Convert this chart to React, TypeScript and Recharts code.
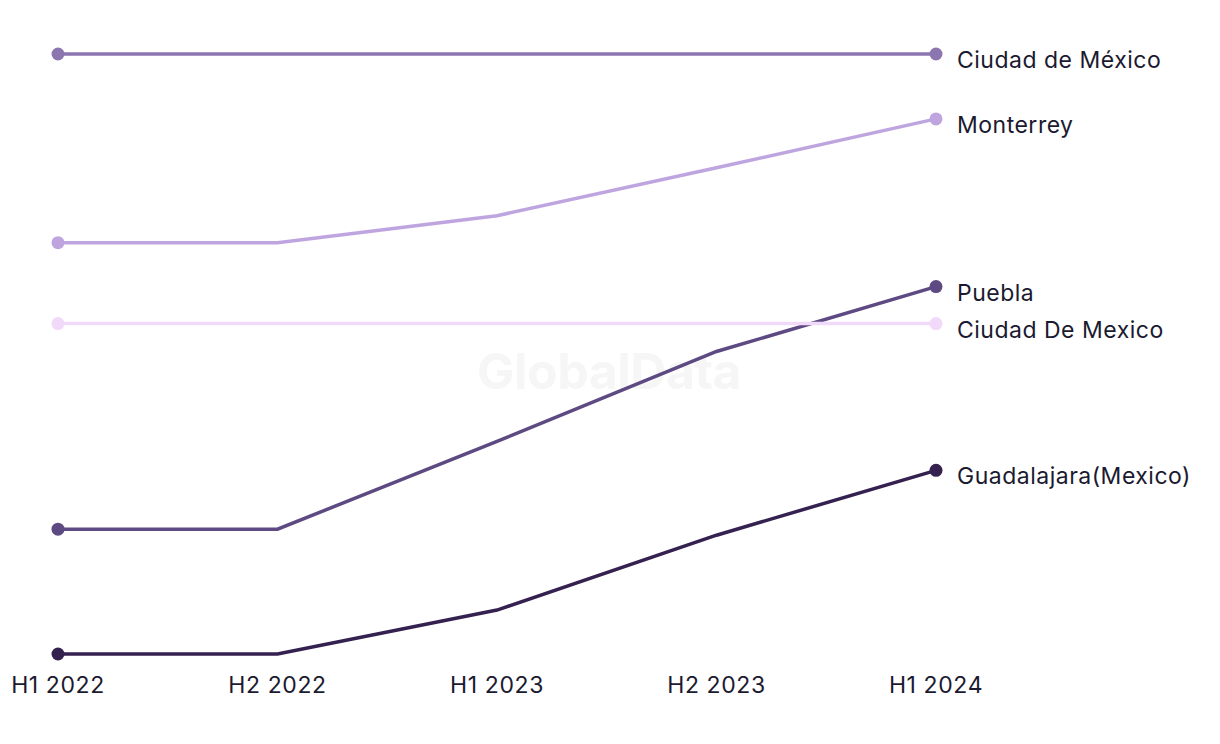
import { LineChart, Line, XAxis, YAxis } from "recharts"

document.body.style.margin = "0"

const periods = ["H1 2022", "H2 2022", "H1 2023", "H2 2023", "H1 2024"]

const ciudadDeMexico = [601, 601, 601, 601, 601]
const monterrey = [412, 412, 439, 487, 536]
const puebla = [125, 125, 213, 303, 368]
const ciudadDeMexico2 = [331, 331, 331, 331, 331]
const guadalajara = [0, 0, 44, 119, 184]

const series = [
  { key: "cdmx", name: "Ciudad de México", values: ciudadDeMexico, color: "#8c76b0" },
  { key: "mty", name: "Monterrey", values: monterrey, color: "#bfa5e0" },
  { key: "pue", name: "Puebla", values: puebla, color: "#5e4a82" },
  { key: "cdmx2", name: "Ciudad De Mexico", values: ciudadDeMexico2, color: "#f1d9f9" },
  { key: "gdl", name: "Guadalajara(Mexico)", values: guadalajara, color: "#34214f" },
]

const data = periods.map((p, i) => {
  const row: Record<string, string | number> = { period: p }
  series.forEach(s => {
    row[s.key] = s.values[i]
  })
  return row
})

const FONT = "Inter, 'Noto Sans', sans-serif"
const TEXT = "#1b1a30"

export default function App() {
  const last = periods.length - 1
  return (
    <div style={{ position: "relative", width: 1220, height: 744, background: "#fff" }}>
      <div
        style={{
          position: "absolute",
          left: 477,
          top: 341,
          fontFamily: FONT,
          fontWeight: 700,
          fontSize: 50,
          color: "#f6f6f6",
          letterSpacing: -0.5,
        }}
      >
        GlobalData
      </div>
      <div style={{ position: "absolute", left: 0, top: 0 }}>
        <LineChart
          width={1220}
          height={744}
          data={data}
          margin={{ top: 54, right: 284, bottom: 0, left: 58 }}
        >
          <XAxis
            dataKey="period"
            axisLine={false}
            tickLine={false}
            height={90}
            tickMargin={17}
            interval={0}
            padding={{ left: 0, right: 0 }}
            tick={{ fill: TEXT, fontSize: 23, fontFamily: FONT, letterSpacing: 0.6 }}
          />
          <YAxis hide domain={[0, 601]} />
          {series.map(s => (
            <Line
              key={s.key}
              dataKey={s.key}
              name={s.name}
              type="linear"
              stroke={s.color}
              strokeWidth={3.5}
              isAnimationActive={false}
              dot={(props: any) =>
                props.index === 0 || props.index === last ? (
                  <circle key={props.index} cx={props.cx} cy={props.cy} r={6.5} fill={s.color} />
                ) : (
                  <g key={props.index} />
                )
              }
              activeDot={false}
              label={(props: any) =>
                props.index === last ? (
                  <text
                    key="lbl"
                    x={props.x + 21}
                    y={props.y + 14}
                    fill={TEXT}
                    fontSize={23}
                    fontFamily={FONT}
                    letterSpacing={0.5}
                  >
                    {s.name}
                  </text>
                ) : (
                  <g key={props.index} />
                )
              }
            />
          ))}
        </LineChart>
      </div>
    </div>
  )
}
